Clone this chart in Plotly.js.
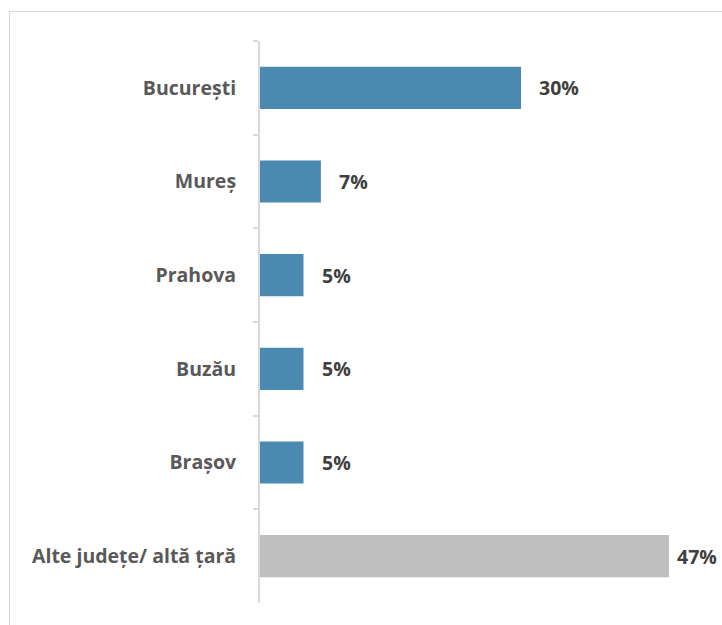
<!DOCTYPE html>
<html>
<head>
<meta charset="utf-8">
<script src="https://cdn.plot.ly/plotly-3.0.1.min.js"></script>
<style>
html,body{margin:0;padding:0;background:#fff;}
#wrap{position:relative;width:722px;height:625px;overflow:hidden;}
#chart{width:722px;height:625px;}
#frame{position:absolute;left:9px;top:11px;width:800px;height:700px;border:1.5px solid #d9d9d9;pointer-events:none;box-sizing:border-box;}
</style>
</head>
<body>
<div id="wrap"><div id="chart"></div><div id="frame"></div></div>
<script>
const categories = ["București", "Mureș", "Prahova", "Buzău", "Brașov", "Alte județe/ altă țară"];
const values = [30, 7, 5, 5, 5, 47];
const colors = ["#4a8ab0", "#4a8ab0", "#4a8ab0", "#4a8ab0", "#4a8ab0", "#bfbfbf"];
const valueLabels = values.map(v => v + "%");

const fontFam = "Open Sans, sans-serif";

const trace = {
  type: "bar",
  orientation: "h",
  y: categories,
  x: values,
  marker: {color: colors},
  hoverinfo: "none"
};

const annotations = categories.map((c, i) => ({
  x: values[i], y: c, xref: "x", yref: "y",
  text: "<b>" + valueLabels[i] + "</b>",
  showarrow: false, xanchor: "left", yanchor: "middle",
  xshift: values[i] > 40 ? 6 : 16,
  font: {family: fontFam, size: 19.5, color: "#404040"}
}));

const layout = {
  width: 722, height: 625,
  margin: {l: 260, r: 0, t: 41, b: 22},
  paper_bgcolor: "rgba(0,0,0,0)",
  plot_bgcolor: "rgba(0,0,0,0)",
  bargap: 0.55,
  showlegend: false,
  xaxis: {visible: false, range: [0, 53.1], fixedrange: true},
  yaxis: {
    type: "category",
    autorange: "reversed",
    showline: true, linecolor: "#d9d9d9", linewidth: 2,
    ticks: "outside", tickson: "boundaries", ticklen: 5, tickcolor: "#d9d9d9", tickwidth: 2,
    ticklabelstandoff: 18,
    tickfont: {family: fontFam, size: 19.5, color: "#595959", weight: "bold"},
    showgrid: false, zeroline: false, fixedrange: true
  },
  annotations: annotations
};

Plotly.newPlot("chart", [trace], layout, {displayModeBar: false, staticPlot: true});
</script>
</body>
</html>
